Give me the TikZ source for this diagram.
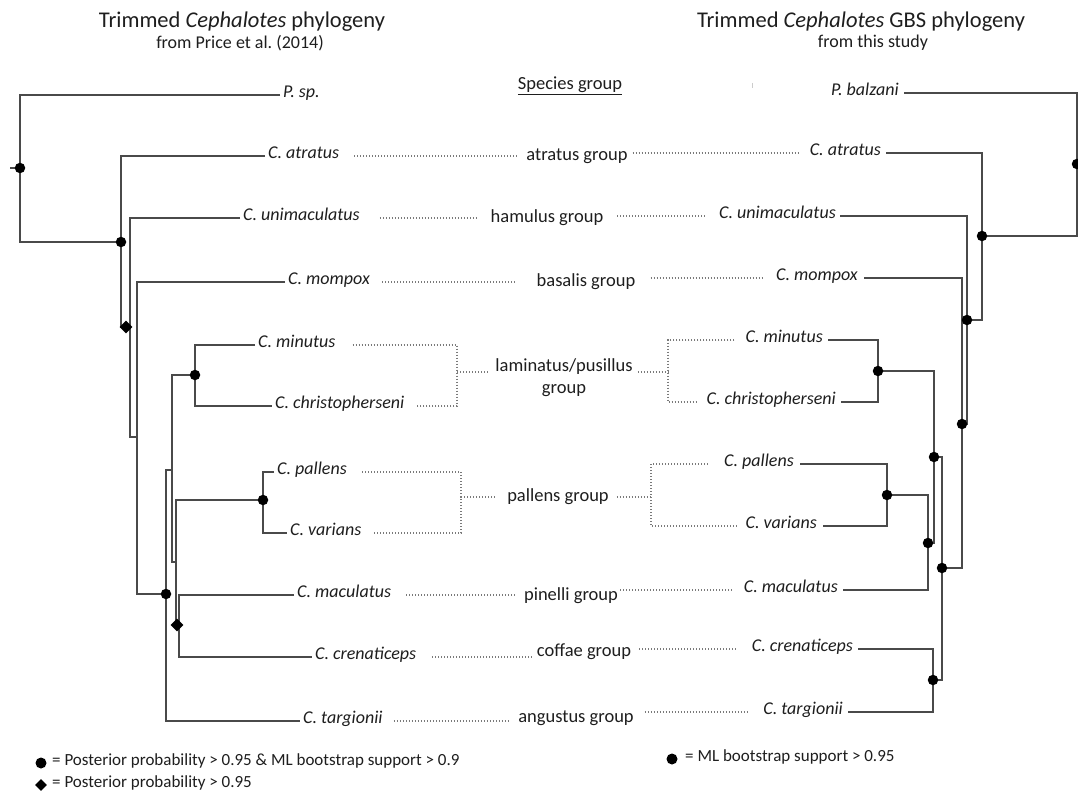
\documentclass[tikz,border=0pt]{standalone}
\usepackage{fontspec}
\setmainfont{Carlito}
\usetikzlibrary{calc,shapes.geometric}
\definecolor{treec}{HTML}{4A4A4A}
\definecolor{dotc}{HTML}{7A7A7A}
\definecolor{txt}{HTML}{1E1E1E}
\begin{document}
\begin{tikzpicture}[x=1pt,y=-1pt,
  br/.style={draw=treec,line width=1.4pt},
  dl/.style={draw=dotc,line width=1.1pt,dash pattern=on 1pt off 2pt},
  sp/.style={inner sep=0pt,text=txt,font=\fontsize{18}{20}\selectfont\itshape},
  grp/.style={inner sep=0pt,text=txt,font=\fontsize{18.5}{22}\selectfont,align=center},
  bdot/.style={circle,fill=black,inner sep=0pt,minimum size=10.5pt},
  bdia/.style={diamond,fill=black,inner sep=0pt,minimum size=13pt},
  leg/.style={inner sep=0pt,text=txt,anchor=mid west,font=\fontsize{17}{20}\selectfont},
  ttl/.style={inner sep=0pt,text=txt,font=\fontsize{22.5}{26}\selectfont},
  sub/.style={inner sep=0pt,text=txt,font=\fontsize{18}{22}\selectfont},
]
\useasboundingbox (0,0) rectangle (1078,794);
\fill[white] (0,0) rectangle (1078,794);

% titles
\node[ttl] (t1) at (242,22) {Trimmed \textit{Cephalotes} phylogeny};
\node[sub] (t1b) at (240,43) {from Price et al.\ (2014)};
\node[ttl] (t2) at (861,22) {Trimmed \textit{Cephalotes} GBS phylogeny};
\node[sub] (t2b) at (873,43) {from this study};

% ---------- left leaves ----------
\node[sp,anchor=mid west] (Lsp)  at (283,95)  {P. sp.};
\node[sp,anchor=mid west] (Latr) at (268,156) {C. atratus};
\node[sp,anchor=mid west] (Luni) at (243,218) {C. unimaculatus};
\node[sp,anchor=mid west] (Lmom) at (288,282) {C. mompox};
\node[sp,anchor=mid west] (Lmin) at (258,345) {C. minutus};
\node[sp,anchor=mid west] (Lchr) at (275,406) {C. christopherseni};
\node[sp,anchor=mid west] (Lpal) at (277,472) {C. pallens};
\node[sp,anchor=mid west] (Lvar) at (290,533) {C. varians};
\node[sp,anchor=mid west] (Lmac) at (297,595) {C. maculatus};
\node[sp,anchor=mid west] (Lcre) at (315,657) {C. crenaticeps};
\node[sp,anchor=mid west] (Ltar) at (303,721) {C. targionii};

% left internal nodes
\coordinate (lR) at (20,168);
\coordinate (lRt) at (10,168);
\coordinate (lA) at (121,242);
\coordinate (lB) at (130,327);
\coordinate (lC) at (137,437);
\coordinate (lD) at (166,594);
\coordinate (lE) at (172,470);
\coordinate (lM) at (195,375);
\coordinate (lF) at (176,562);
\coordinate (lP) at (263,500);
\coordinate (lG) at (179,625);

\draw[br] ([xshift=-3pt]Lsp.mid west) -| (lR) |- (lA);
\draw[br] (lR) -- (lRt);
\draw[br] ([xshift=-3pt]Latr.mid west) -| (lA) |- (lB);
\draw[br] ([xshift=-3pt]Luni.mid west) -| (lB) |- (lC);
\draw[br] ([xshift=-3pt]Lmom.mid west) -| (lC) |- (lD);
\draw[br] (lE) -| (lD) |- ([xshift=-3pt]Ltar.mid west);
\draw[br] (lM) -| (lE) |- (lF);
\draw[br] ([xshift=-3pt]Lmin.mid west) -| (lM) |- ([xshift=-3pt]Lchr.mid west);
\draw[br] (lP) -| (lF) |- (lG);
\draw[br] ([xshift=-3pt]Lpal.mid west) -| (lP) |- ([xshift=-3pt]Lvar.mid west);
\draw[br] ([xshift=-3pt]Lmac.mid west) -| (lG) |- ([xshift=-3pt]Lcre.mid west);

\node[bdot] (mlR) at (lR) {};
\node[bdot] (mlA) at (lA) {};
\node[bdia] (mlB) at (126,327) {};
\node[bdot] (mlD) at (lD) {};
\node[bdot] (mlM) at (lM) {};
\node[bdot] (mlP) at (lP) {};
\node[bdia] (mlG) at (177,625) {};

% ---------- right leaves ----------
\node[sp,anchor=mid east] (Rbal) at (899,93)  {P. balzani};
\node[sp,anchor=mid east] (Ratr) at (881,153) {C. atratus};
\node[sp,anchor=mid east] (Runi) at (836,216) {C. unimaculatus};
\node[sp,anchor=mid east] (Rmom) at (858,278) {C. mompox};
\node[sp,anchor=mid east] (Rmin) at (823,340) {C. minutus};
\node[sp,anchor=mid east] (Rchr) at (836,402) {C. christopherseni};
\node[sp,anchor=mid east] (Rpal) at (794,464) {C. pallens};
\node[sp,anchor=mid east] (Rvar) at (817,526) {C. varians};
\node[sp,anchor=mid east] (Rmac) at (838,590) {C. maculatus};
\node[sp,anchor=mid east] (Rcre) at (853,649) {C. crenaticeps};
\node[sp,anchor=mid east] (Rtar) at (843,712) {C. targionii};

% right internal nodes
\coordinate (rR) at (1077,164);
\coordinate (rA) at (982,236);
\coordinate (rB) at (967,320);
\coordinate (rC) at (962,424);
\coordinate (rD) at (942,568);
\coordinate (rE) at (934,457);
\coordinate (rM) at (878,371);
\coordinate (rF) at (928,543);
\coordinate (rP) at (887,495);
\coordinate (rG) at (933,680);

\draw[br] ([xshift=5pt]Rbal.mid east) -| (rR) |- (rA);
\draw[br] ([xshift=5pt]Ratr.mid east) -| (rA) |- (rB);
\draw[br] ([xshift=4pt]Runi.mid east) -| (rB) |- (rC);
\draw[br] ([xshift=6pt]Rmom.mid east) -| (rC) |- (rD);
\draw[br] (rE) -| (rD) |- (rG);
\draw[br] (rM) -| (rE) |- (rF);
\draw[br] ([xshift=5pt]Rmin.mid east) -| (rM) |- ([xshift=5pt]Rchr.mid east);
\draw[br] (rP) -| (rF) |- ([xshift=5pt]Rmac.mid east);
\draw[br] ([xshift=6pt]Rpal.mid east) -| (rP) |- ([xshift=6pt]Rvar.mid east);
\draw[br] ([xshift=5pt]Rcre.mid east) -| (rG) |- ([xshift=5pt]Rtar.mid east);

\foreach \c in {rR,rA,rB,rC,rD,rE,rM,rF,rP,rG} {\node[bdot] (m\c) at (\c) {};}

% ---------- species groups ----------
\node[grp] (Gsp) at (570,86) {\underline{Species group}};
\draw[gray!40,line width=0.6pt] (752,83) -- (752,88);

\node[grp] (Gatr) at (577,156) {atratus group};
\node[grp] (Gham) at (547,218) {hamulus group};
\node[grp] (Gbas) at (586,282) {basalis group};
\node[grp] (Glam) at (564,378) {laminatus/pusillus\\group};
\node[grp] (Gpal) at (558,497) {pallens group};
\node[grp] (Gpin) at (571,596) {pinelli group};
\node[grp] (Gcof) at (584,652) {coffae group};
\node[grp] (Gang) at (576,718) {angustus group};

% dotted links: atratus
\draw[dl] ([xshift=15pt]Latr.mid east) -- ($(Gatr.west|-Latr.mid east)+(-9,0)$);
\draw[dl] ($(Gatr.east|-Ratr.mid west)+(5,0)$) -- ([xshift=-11pt]Ratr.mid west);
% hamulus
\draw[dl] ([xshift=20pt]Luni.mid east) -- ($(Gham.west|-Luni.mid east)+(-13,0)$);
\draw[dl] ($(Gham.east|-Runi.mid west)+(14,0)$) -- ([xshift=-12pt]Runi.mid west);
% basalis
\draw[dl] ([xshift=12pt]Lmom.mid east) -- ($(Gbas.west|-Lmom.mid east)+(-20,0)$);
\draw[dl] ($(Gbas.east|-Rmom.mid west)+(15,0)$) -- ([xshift=-13pt]Rmom.mid west);
% laminatus/pusillus bracket
\coordinate (lbl) at (457,372);
\coordinate (rbl) at (668,372);
\draw[dl] ([xshift=17pt]Lmin.mid east) -| (lbl) |- ([xshift=11pt]Lchr.mid east);
\draw[dl] (lbl) -- ($(Glam.west|-lbl)+(-8,0)$);
\draw[dl] ([xshift=-11pt]Rmin.mid west) -| (rbl) |- ([xshift=-10pt]Rchr.mid west);
\draw[dl] ($(Glam.east|-rbl)+(5,0)$) -- (rbl);
% pallens bracket
\coordinate (lbp) at (461,497);
\coordinate (rbp) at (651,497);
\draw[dl] ([xshift=15pt]Lpal.mid east) -| (lbp) |- ([xshift=12pt]Lvar.mid east);
\draw[dl] (lbp) -- ($(Gpal.west|-lbp)+(-13,0)$);
\draw[dl] ([xshift=-16pt]Rpal.mid west) -| (rbp) |- ([xshift=-9pt]Rvar.mid west);
\draw[dl] ($(Gpal.east|-rbp)+(8,0)$) -- (rbp);
% pinelli
\draw[dl] ([xshift=15pt]Lmac.mid east) -- ($(Gpin.west|-Lmac.mid east)+(-7,0)$);
\draw[dl] ($(Gpin.east|-Rmac.mid west)+(2,0)$) -- ([xshift=-10pt]Rmac.mid west);
% coffae
\draw[dl] ([xshift=16pt]Lcre.mid east) -- ($(Gcof.west|-Lcre.mid east)+(-4,0)$);
\draw[dl] ($(Gcof.east|-Rcre.mid west)+(8,0)$) -- ([xshift=-15pt]Rcre.mid west);
% angustus
\draw[dl] ([xshift=11pt]Ltar.mid east) -- ($(Gang.west|-Ltar.mid east)+(-10,0)$);
\draw[dl] ($(Gang.east|-Rtar.mid west)+(11,0)$) -- ([xshift=-14pt]Rtar.mid west);

% ---------- legends ----------
\node[bdot,minimum size=11pt] (k1) at (41,763) {};
\node[leg] (k1t) at (52,763) {= Posterior probability > 0.95 \& ML bootstrap support > 0.9};
\node[bdia,minimum size=12pt] (k2) at (41,785) {};
\node[leg] (k2t) at (52,785) {= Posterior probability > 0.95};
\node[bdot,minimum size=11pt] (k3) at (672,759) {};
\node[leg] (k3t) at (685,759) {= ML bootstrap support > 0.95};
\end{tikzpicture}
\end{document}
